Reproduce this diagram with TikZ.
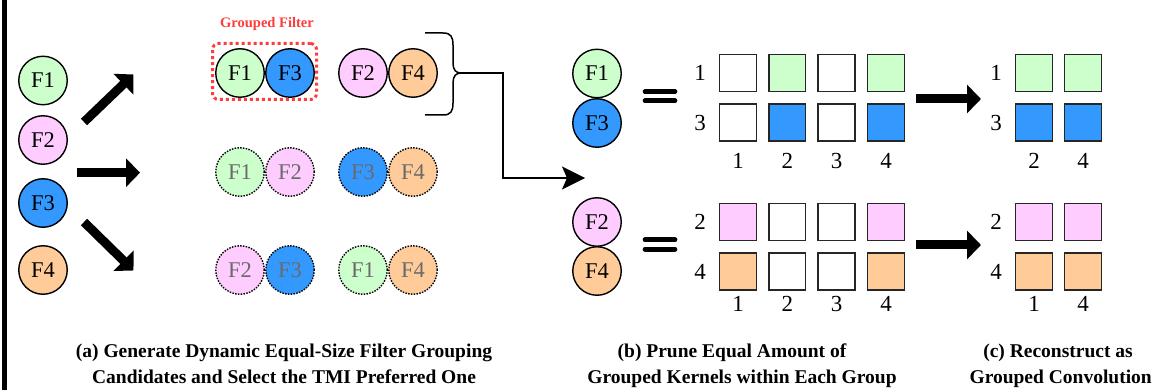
\documentclass[tikz,border=0pt]{standalone}
\usepackage{fontspec}
\setmainfont{Liberation Serif}
\usetikzlibrary{arrows.meta}
\definecolor{cg}{HTML}{CCFFCC}
\definecolor{cp}{HTML}{FFCCFF}
\definecolor{cb}{HTML}{3399FF}
\definecolor{co}{HTML}{FFCC99}
\definecolor{gred}{HTML}{FF3B3B}
\definecolor{gtxt}{HTML}{6A6A6A}
\tikzset{
 filt/.style={circle, draw=black, line width=1.4pt, minimum size=48.5pt, inner sep=0pt, font=\fontsize{22.5}{27}\selectfont},
 cand/.style={filt, dash pattern=on 1.5pt off 1.3pt, text=gtxt},
 kern/.style={rectangle, draw=black!85, line width=1.4pt, minimum size=36.8pt, inner sep=0pt},
 lab/.style={font=\fontsize{23}{27}\selectfont, inner sep=0pt},
 fat/.style={line width=9pt, -{Triangle[length=14pt,width=28pt]}},
 capt/.style={font=\fontsize{19.5}{23}\selectfont\bfseries, anchor=base, inner sep=0pt},
 eqbar/.style={line width=4.7pt, line cap=round},
 conn/.style={line width=1.5pt}
}
\begin{document}
\begin{tikzpicture}[x=1pt,y=-1pt]
\useasboundingbox (0,0) rectangle (1154,390);
\fill[black] (1.5,0) rectangle (6.5,390);
% (a) original filters
\node[filt,fill=cg] (L1) at (43,80.5) {F1};
\node[filt,fill=cp] (L2) at (43,140) {F2};
\node[filt,fill=cb] (L3) at (43,203) {F3};
\node[filt,fill=co] (L4) at (43,270) {F4};
\coordinate (a1s) at (84,122); \coordinate (a1e) at (133.5,74.5);
\coordinate (a2s) at (77,172.7); \coordinate (a2e) at (140,172.7);
\coordinate (a3s) at (84,222); \coordinate (a3e) at (133.5,270.5);
\draw[fat] (a1s) -- (a1e);
\draw[fat] (a2s) -- (a2e);
\draw[fat] (a3s) -- (a3e);
% candidates
\node[filt,fill=cg] (C11) at (240,73) {F1};
\node[filt,fill=cb] (C12) at (290,73) {F3};
\node[filt,fill=cp] (C13) at (363,73) {F2};
\node[filt,fill=co] (C14) at (413,73) {F4};
\node[cand,fill=cg] (C21) at (240,172) {F1};
\node[cand,fill=cp] (C22) at (290,172) {F2};
\node[cand,fill=cb] (C23) at (363,172) {F3};
\node[cand,fill=co] (C24) at (413,172) {F4};
\node[cand,fill=cp] (C31) at (240,270) {F2};
\node[cand,fill=cb] (C32) at (290,270) {F3};
\node[cand,fill=cg] (C33) at (363,270) {F1};
\node[cand,fill=co] (C34) at (413,270) {F4};
\node[draw=gred, line width=3pt, dash pattern=on 3pt off 3pt, rounded corners=6pt, minimum width=104pt, minimum height=56pt, inner sep=0pt] (gf) at (264.5,71.5) {};
\node[anchor=base, inner sep=0pt, text=gred, font=\fontsize{14.5}{17}\selectfont\bfseries] (gflab) at (267,28) {Grouped Filter};
% brace and connector
\draw[conn] (425,33) -- (443,33) .. controls (451,33) and (453,37) .. (453,45) -- (453,63) .. controls (453,70) and (456,73) .. (461,73) .. controls (456,73) and (453,76) .. (453,83) -- (453,103) .. controls (453,111) and (451,115) .. (443,115) -- (425,115);
\coordinate (brtip) at (461,73);
\coordinate (tgt) at (585,178);
\draw[conn, -{Stealth[length=23pt,width=23pt,inset=5pt]}] (brtip) -- (503,73) |- (tgt);
% (b)
\node[filt,fill=cg] (B1) at (597,73.5) {F1};
\node[filt,fill=cb] (B3) at (597,123) {F3};
\node[filt,fill=cp] (B2) at (597,222) {F2};
\node[filt,fill=co] (B4) at (597,271) {F4};
\draw[eqbar] (645,91.7) -- (675,91.7);
\draw[eqbar] (645,100.8) -- (675,100.8);
\draw[eqbar] (645,239.8) -- (675,239.8);
\draw[eqbar] (645,249.2) -- (675,249.2);
\foreach \x/\f [count=\i] in {738/white,787.3/cg,836.5/white,886/cg} \node[kern,fill=\f] (ka\i) at (\x,73) {};
\foreach \x/\f [count=\i] in {738/white,787.3/cb,836.5/white,886/cb} \node[kern,fill=\f] (kb\i) at (\x,122.5) {};
\foreach \x/\f [count=\i] in {738/cp,787.3/white,836.5/white,886/cp} \node[kern,fill=\f] (kc\i) at (\x,222) {};
\foreach \x/\f [count=\i] in {738/co,787.3/white,836.5/white,886/co} \node[kern,fill=\f] (kd\i) at (\x,271.5) {};
\node[lab] (rb1) at (700,73) {1};
\node[lab] (rb3) at (700,122.5) {3};
\node[lab] (rb2) at (700,222) {2};
\node[lab] (rb4) at (700,271.5) {4};
\foreach \x [count=\i] in {738,787.3,836.5,886} {
  \node[lab] (cb\i) at (\x,160.5) {\i};
  \node[lab] (cd\i) at (\x,304) {\i};
}
% arrows to (c)
\coordinate (r1s) at (916,99); \coordinate (r1e) at (981,99);
\coordinate (r2s) at (916,245); \coordinate (r2e) at (981,245);
\draw[fat] (r1s) -- (r1e);
\draw[fat] (r2s) -- (r2e);
% (c)
\node[kern,fill=cg] (ga1) at (1034,73) {};
\node[kern,fill=cg] (ga2) at (1083,73) {};
\node[kern,fill=cb] (gb1) at (1034,122.5) {};
\node[kern,fill=cb] (gb2) at (1083,122.5) {};
\node[kern,fill=cp] (gc1) at (1034,222) {};
\node[kern,fill=cp] (gc2) at (1083,222) {};
\node[kern,fill=co] (gd1) at (1034,271.5) {};
\node[kern,fill=co] (gd2) at (1083,271.5) {};
\node[lab] (rc1) at (996,73) {1};
\node[lab] (rc3) at (996,122.5) {3};
\node[lab] (rc2) at (996,222) {2};
\node[lab] (rc4) at (996,271.5) {4};
\node[lab] (cc2) at (1034,160.5) {2};
\node[lab] (cc4) at (1083,160.5) {4};
\node[lab] (ce1) at (1034,304) {1};
\node[lab] (ce4) at (1083,304) {4};
% captions
\node[capt] (capa1) at (284,357) {(a) Generate Dynamic Equal-Size Filter Grouping};
\node[capt] (capa2) at (284,383) {Candidates and Select the TMI Preferred One};
\node[capt] (capb1) at (732,357) {(b) Prune Equal Amount of};
\node[capt] (capb2) at (742,383) {Grouped Kernels within Each Group};
\node[capt] (capc1) at (1058,357) {(c) Reconstruct as};
\node[capt, anchor=base east] (capc2) at (1152,383) {Grouped Convolution};
\end{tikzpicture}
\end{document}
